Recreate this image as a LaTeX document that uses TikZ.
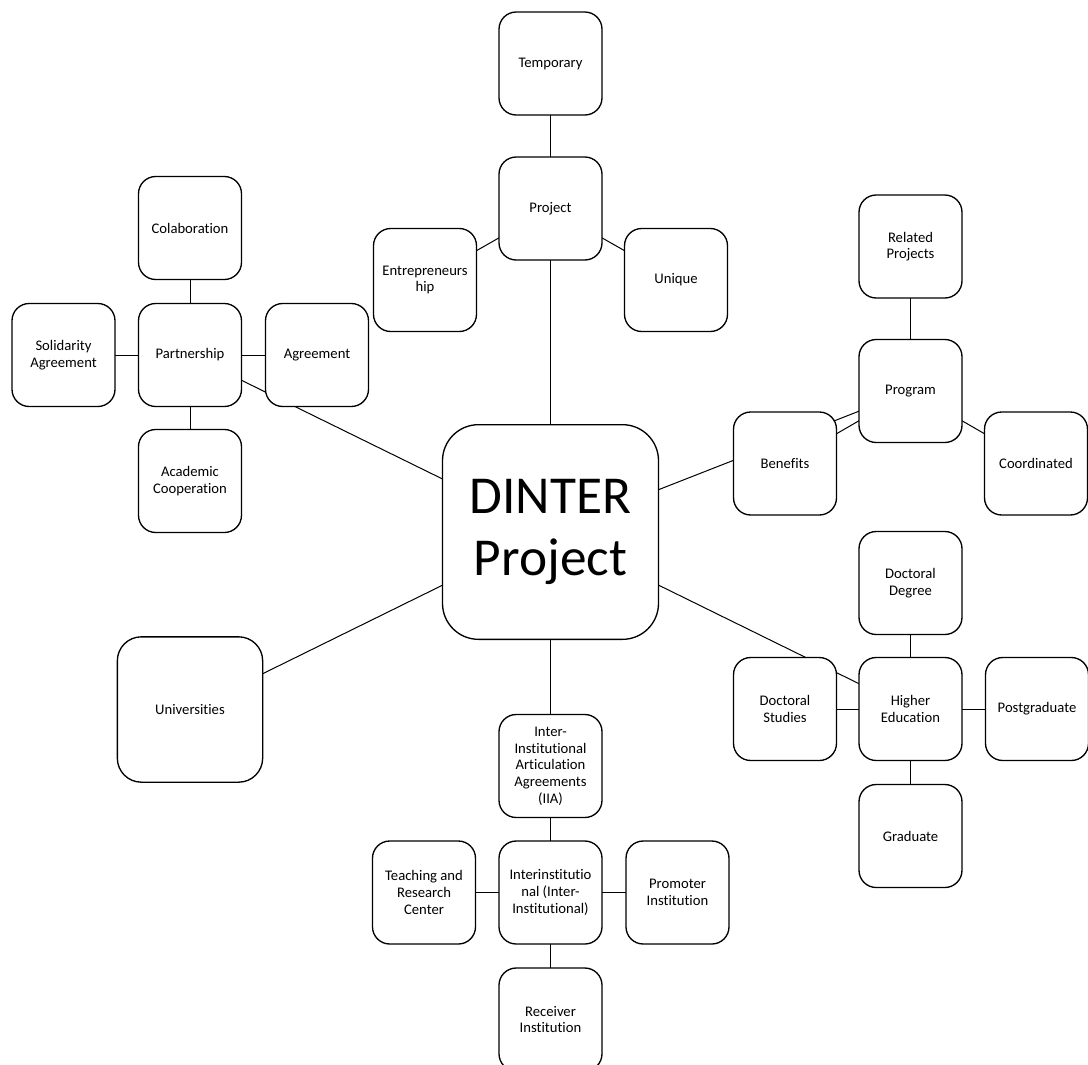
\documentclass[tikz,border=0pt]{standalone}
\usepackage{fontspec}
\setmainfont{Carlito}[RawFeature={-liga,-clig,-dlig,-calt}]
\usetikzlibrary{backgrounds}
\begin{document}
\begin{tikzpicture}[x=0.75pt,y=-0.75pt,
  box/.style={draw, line width=1pt, fill=white, rounded corners=12.9pt,
    minimum width=77.25pt, minimum height=77.25pt, inner sep=0pt,
    align=center, font=\fontsize{11}{12.5}\selectfont},
  bigbox/.style={box, minimum width=162pt, minimum height=161pt,
    rounded corners=27pt, font=\fontsize{40}{46}\selectfont},
  widebox/.style={box, minimum width=109pt, minimum height=109pt,
    rounded corners=18pt},
  link/.style={line width=0.75pt}]
\useasboundingbox (0,0) rectangle (1088,1064);

% central concept
\node[bigbox] (dinter) at (550.5,532) {DINTER\\Project};

% project branch
\node[box] (temp)  at (550.5,63.5)  {Temporary};
\node[box] (proj)  at (550.5,208.5) {Project};
\node[box] (entre) at (425,280)     {Entrepreneurs\\hip};
\node[box] (uniq)  at (676,280)     {Unique};

% partnership branch
\node[box] (colab) at (190,228)   {Colaboration};
\node[box] (partn) at (190,355)   {Partnership};
\node[box] (solid) at (63.5,355)  {Solidarity\\Agreement};
\node[box] (agree) at (317,355)   {Agreement};
\node[box] (acad)  at (190,481)   {Academic\\Cooperation};

% program branch
\node[box] (relp)  at (910.5,246.5) {Related\\Projects};
\node[box] (prog)  at (910.5,391)   {Program};
\node[box] (benef) at (785,463.5)   {Benefits};
\node[box] (coord) at (1036,463.5)  {Coordinated};

% higher education branch
\node[box] (docdeg)  at (910.5,583)  {Doctoral\\Degree};
\node[box] (higher)  at (910.5,709)  {Higher\\Education};
\node[box] (docstud) at (785,709)    {Doctoral\\Studies};
\node[box] (postg)   at (1037,709)   {Postgraduate};
\node[box] (grad)    at (910.5,836)  {Graduate};

% universities
\node[widebox] (univ) at (190,709.5) {Universities};

% inter-institutional branch
\node[box] (iia)   at (550.5,766)    {Inter-\\Institutional\\Articulation\\Agreements\\(IIA)};
\node[box] (inter) at (550.5,892.5)  {Interinstitutio\\nal (Inter-\\Institutional)};
\node[box] (teach) at (424,892.5)    {Teaching and\\Research\\Center};
\node[box] (promo) at (677.5,892.5)  {Promoter\\Institution};
\node[box] (recv)  at (550.5,1019.5) {Receiver\\Institution};

% connectors, drawn behind the filled boxes
\begin{scope}[on background layer]
  \draw[link] (temp.center) -- (proj.center);
  \draw[link] (proj.center) -- (entre.center);
  \draw[link] (proj.center) -- (uniq.center);
  \draw[link] (proj.center) -- (dinter.center);
  \draw[link] (colab.center) -- (partn.center);
  \draw[link] (solid.center) -- (partn.center);
  \draw[link] (partn.center) -- (agree.center);
  \draw[link] (partn.center) -- (acad.center);
  \draw[link] (partn.center) -- (dinter.center);
  \draw[link] (relp.center) -- (prog.center);
  \draw[link] (benef.center) -- (prog.center);
  \draw[link] (prog.center) -- (coord.center);
  \draw[link] (dinter.center) -- (prog.center);
  \draw[link] (docdeg.center) -- (higher.center);
  \draw[link] (docstud.center) -- (higher.center);
  \draw[link] (higher.center) -- (postg.center);
  \draw[link] (higher.center) -- (grad.center);
  \draw[link] (dinter.center) -- (higher.center);
  \draw[link] (dinter.center) -- (univ.center);
  \draw[link] (dinter.center) -- (iia.center);
  \draw[link] (iia.center) -- (inter.center);
  \draw[link] (teach.center) -- (inter.center);
  \draw[link] (inter.center) -- (promo.center);
  \draw[link] (inter.center) -- (recv.center);
\end{scope}
\end{tikzpicture}
\end{document}
